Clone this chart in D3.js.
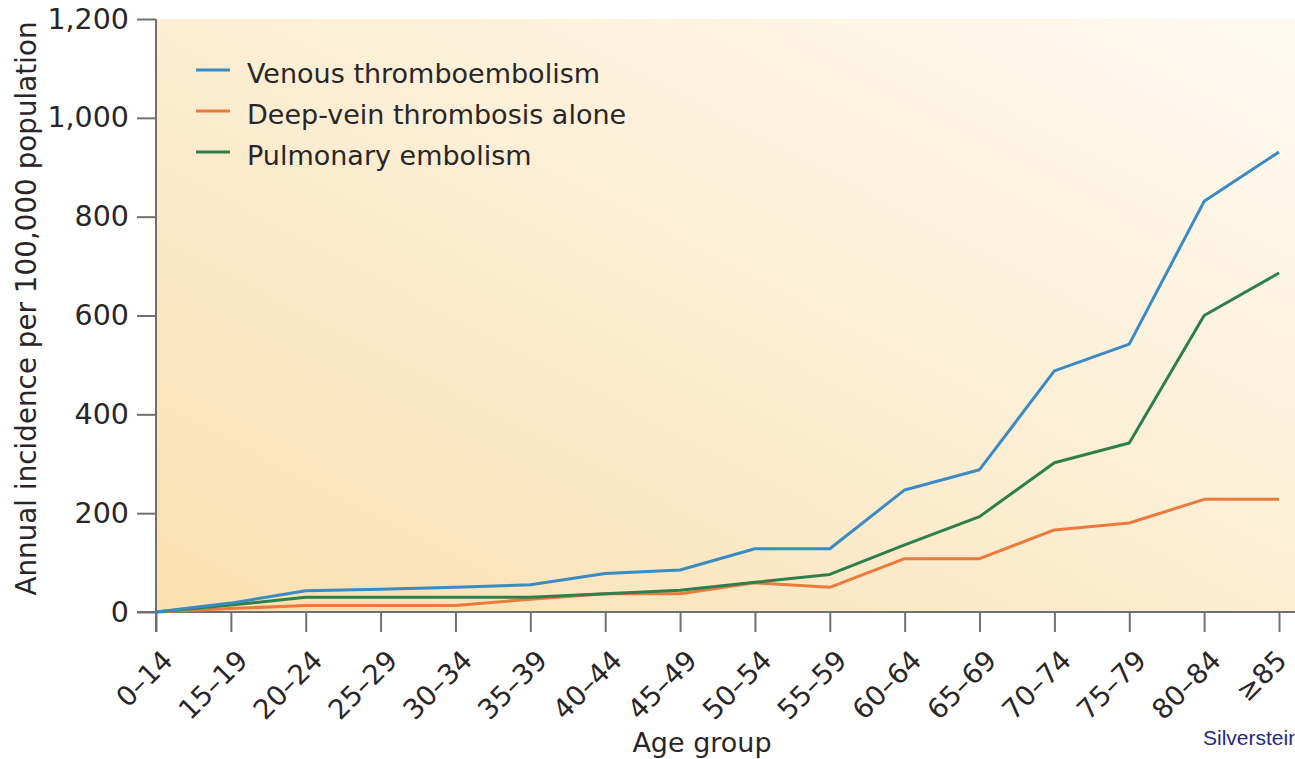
<!DOCTYPE html>
<html>
<head>
<meta charset="utf-8">
<script src="https://cdn.jsdelivr.net/npm/d3@7"></script>
<style>
  html, body { margin: 0; padding: 0; background: #ffffff; }
  svg { display: block; }
  text { font-family: "DejaVu Sans", sans-serif; fill: #2a2627; }
</style>
</head>
<body>
<svg id="chart" width="1295" height="759"></svg>
<script>
const categories = ["0–14","15–19","20–24","25–29","30–34","35–39","40–44","45–49","50–54","55–59","60–64","65–69","70–74","75–79","80–84","≥85"];
const vteValues = [0, 18, 43, 46, 50, 55, 78, 85, 128, 128, 247, 288, 488, 542, 831, 931];
const dvtValues = [0, 7, 13, 13, 13, 26, 37, 37, 59, 50, 108, 108, 166, 180, 228, 228];
const peValues  = [0, 14, 30, 30, 30, 30, 37, 44, 60, 76, 136, 193, 302, 342, 600, 686];
const seriesNames = ["Venous thromboembolism", "Deep-vein thrombosis alone", "Pulmonary embolism"];
const yTickValues = [0, 200, 400, 600, 800, 1000, 1200];
const xTitle = "Age group";
const yTitle = "Annual incidence per 100,000 population";
const sourceText = "Silverstein et al.";

(function () {
const W = 1295, H = 759;
const mLeft = 156, mRight = 1279, mTop = 19, mBottom = 612;
const colors = ["#3a8ac4", "#ec7a3c", "#2f7f4b"];
const font = "'DejaVu Sans', sans-serif";
const textFill = "#2a2627";

const svg = d3.select("#chart");
const x = d3.scalePoint().domain(categories).range([mLeft, mRight]);
const y = d3.scaleLinear().domain([0, 1200]).range([mBottom, mTop]);

// background gradient
const defs = svg.append("defs");
const grad = defs.append("linearGradient").attr("id", "bg")
  .attr("x1", 0).attr("y1", 1).attr("x2", 1).attr("y2", 0);
grad.append("stop").attr("offset", "0%").attr("stop-color", "#f9e0b0");
grad.append("stop").attr("offset", "55%").attr("stop-color", "#fcefd6");
grad.append("stop").attr("offset", "100%").attr("stop-color", "#fefaf1");
svg.append("rect")
  .attr("x", mLeft).attr("y", y(1200))
  .attr("width", W - mLeft).attr("height", y(0) - y(1200))
  .attr("fill", "url(#bg)");

// y axis
const yAxis = d3.axisLeft(y).tickValues(yTickValues).tickFormat(d3.format(","))
  .tickSize(19).tickPadding(8);
const gy = svg.append("g").attr("transform", `translate(${mLeft},0)`).call(yAxis);
gy.select(".domain").remove();
gy.selectAll(".tick line").attr("stroke", "#707070").attr("stroke-width", 2);
gy.selectAll(".tick text").attr("font-size", 28.5).attr("fill", textFill)
  .style("font-family", font);

// x axis
const xAxis = d3.axisBottom(x).tickSize(20).tickPadding(0);
const gx = svg.append("g").attr("transform", `translate(0,${mBottom})`).call(xAxis);
gx.select(".domain").remove();
gx.selectAll(".tick line").attr("stroke", "#707070").attr("stroke-width", 2);
const lastCat = categories[categories.length - 1];
gx.selectAll(".tick text")
  .attr("x", 0).attr("y", 0).attr("dy", 0)
  .attr("text-anchor", "end")
  .attr("transform", d => d === lastCat ? "translate(9,50) rotate(-45)" : "translate(18,50) rotate(-45)")
  .attr("font-size", 27.5).attr("fill", textFill)
  .style("font-family", font);

// axis lines
svg.append("line").attr("x1", mLeft).attr("x2", mLeft)
  .attr("y1", y(1200)).attr("y2", y(0) + 20)
  .attr("stroke", "#707070").attr("stroke-width", 2);
svg.append("line").attr("x1", mLeft - 19).attr("x2", W)
  .attr("y1", y(0)).attr("y2", y(0))
  .attr("stroke", "#707070").attr("stroke-width", 2);

// lines
const line = d3.line().x((d, i) => x(categories[i])).y(d => y(d));
const allSeries = [vteValues, dvtValues, peValues];
const drawOrder = [1, 2, 0];
drawOrder.forEach(k => {
  svg.append("path").datum(allSeries[k])
    .attr("d", line)
    .attr("fill", "none")
    .attr("stroke", colors[k])
    .attr("stroke-width", 3)
    .attr("stroke-linejoin", "round");
});

// legend
const legendY = [70, 111, 152];
seriesNames.forEach((name, i) => {
  svg.append("line").attr("x1", 196).attr("x2", 230)
    .attr("y1", legendY[i]).attr("y2", legendY[i])
    .attr("stroke", colors[i]).attr("stroke-width", 3);
  svg.append("text").attr("x", 247).attr("y", legendY[i] + 12.5)
    .attr("font-size", 27).style("font-family", font).attr("fill", textFill).text(name);
});

// titles
svg.append("text").attr("x", 702).attr("y", 752)
  .attr("text-anchor", "middle").attr("font-size", 27)
  .style("font-family", font).attr("fill", textFill).text(xTitle);
svg.append("text")
  .attr("transform", `translate(36,${(mTop + mBottom) / 2 - 7}) rotate(-90)`)
  .attr("text-anchor", "middle").attr("font-size", 27.8)
  .style("font-family", font).attr("fill", textFill).text(yTitle);

// source (cut off at the right edge, as in the reference)
svg.append("text").attr("x", 1203).attr("y", 745)
  .style("font-family", "'Liberation Sans', Arial, sans-serif")
  .style("fill", "#1f2a8a")
  .attr("font-size", 21).text(sourceText);
})();
</script>
</body>
</html>
